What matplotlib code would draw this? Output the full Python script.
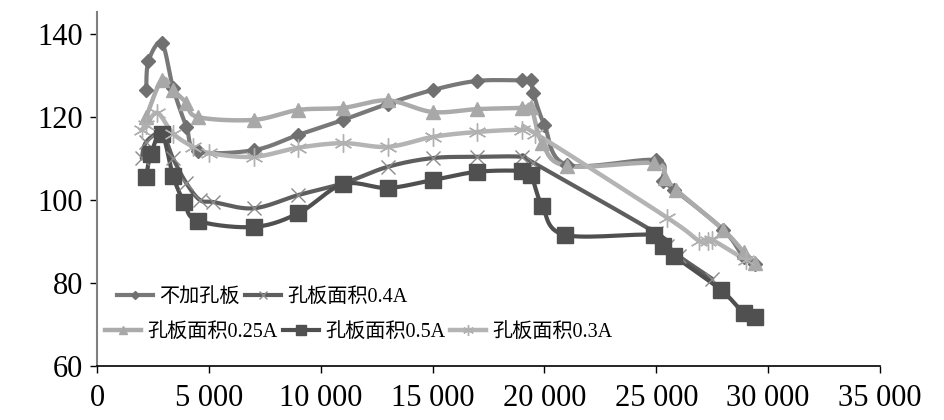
import numpy as np
import matplotlib
matplotlib.use("Agg")
import matplotlib.pyplot as plt
from matplotlib.ticker import FuncFormatter
from matplotlib.lines import Line2D

# ---- data ----
labels = ["不加孔板", "孔板面积0.4A", "孔板面积0.25A", "孔板面积0.5A", "孔板面积0.3A"]

x_none = [2200, 2300, 2900, 3400, 4000, 4500, 7000, 9000, 11000, 13000, 15000, 17000,
          19000, 19400, 19500, 20000, 21000, 25000, 25300, 25800, 28000, 28900, 29400]
y_none = [126.5, 133.5, 137.8, 127.0, 117.6, 111.8, 112.0, 115.7, 119.3, 123.2, 126.5, 128.7,
          128.8, 128.8, 125.8, 118.1, 108.5, 109.6, 104.5, 102.5, 92.8, 86.3, 84.5]

x_04 = [2000, 2200, 2900, 3400, 4000, 4600, 5200, 7000, 9000, 11000, 13000, 15000, 17000,
        19000, 19500, 25000, 25500, 26000, 27500]
y_04 = [110.0, 114.0, 116.0, 110.0, 104.0, 100.0, 99.5, 98.0, 101.2, 104.0, 108.0, 110.1, 110.4,
        110.4, 109.0, 92.0, 89.0, 86.5, 81.0]

x_025 = [2200, 2900, 3400, 4000, 4500, 7000, 9000, 11000, 13000, 15000, 17000, 19000, 19400,
         19900, 21000, 24900, 25400, 25900, 28000, 28900, 29400]
y_025 = [120.0, 129.0, 126.5, 123.4, 120.0, 119.3, 121.7, 122.2, 124.0, 121.2, 121.9, 122.2, 122.4,
         113.7, 108.2, 108.9, 105.3, 102.4, 92.8, 87.5, 84.8]

x_05 = [2200, 2400, 2900, 3400, 3900, 4500, 7000, 9000, 11000, 13000, 15000, 17000, 19000,
        19400, 19900, 20900, 24900, 25300, 25800, 27900, 28900, 29400]
y_05 = [105.5, 111.0, 116.0, 105.8, 99.4, 95.0, 93.5, 96.8, 103.8, 102.9, 104.8, 106.8, 107.0,
        106.0, 98.5, 91.6, 91.6, 89.0, 86.5, 78.3, 72.8, 71.8]

x_03 = [2000, 2200, 2700, 3400, 4300, 5000, 7000, 9000, 11000, 13000, 15000, 17000, 19000,
        19600, 25500, 26900, 27300, 27500, 29000]
y_03 = [116.9, 118.0, 121.0, 116.0, 112.8, 111.3, 110.4, 112.6, 113.7, 112.8, 115.2, 116.4, 116.9,
        116.0, 95.7, 90.2, 90.2, 90.4, 85.5]

x_ticks = [0, 5000, 10000, 15000, 20000, 25000, 30000, 35000]
y_ticks = [60, 80, 100, 120, 140]


def smooth(xs, ys, n=16):
    """Bezier smoothing through the points (like Excel's smoothed line)."""
    p = np.column_stack([xs, ys]).astype(float)
    if len(p) < 3:
        return p[:, 0], p[:, 1]
    ext = np.vstack([p[0], p, p[-1]])
    out = []
    t = np.linspace(0, 1, n, endpoint=False)[:, None]
    for i in range(1, len(ext) - 2):
        p0, p1, p2, p3 = ext[i - 1], ext[i], ext[i + 1], ext[i + 2]
        c1 = p1 + (p2 - p0) / 6.0
        c2 = p2 - (p3 - p1) / 6.0
        seg = ((1 - t) ** 3) * p1 + 3 * ((1 - t) ** 2) * t * c1 + 3 * (1 - t) * t ** 2 * c2 + t ** 3 * p2
        out.append(seg)
    out.append(p[-1][None, :])
    out = np.vstack(out)
    return out[:, 0], out[:, 1]


fig = plt.figure(figsize=(9.44, 4.2), dpi=100)
ax = fig.add_axes([97 / 944, 1 - 366 / 420, (880 - 97) / 944, (366 - 12) / 420])

series = [
    (x_none, y_none, dict(color="#787878", marker="D", ms=7.5, lw=3.0, mfc="#707070", mec="#707070", mew=1)),
    (x_04, y_04, dict(color="#5e5e5e", marker="x", ms=10, lw=3.0, mfc="#8a8a8a", mec="#8a8a8a", mew=1.0)),
    (x_025, y_025, dict(color="#ababab", marker="^", ms=10.5, lw=3.2, mfc="#a8a8a8", mec="#a8a8a8", mew=1)),
    (x_05, y_05, dict(color="#4f4f4f", marker="s", ms=11, lw=3.0, mfc="#505050", mec="#505050", mew=1)),
    (x_03, y_03, dict(color="#b4b4b4", marker=(6, 2, 0), ms=13, lw=3.2, mfc="#b0b0b0", mec="#b0b0b0", mew=1.0)),
]

handles = []
for (xs, ys, st), lab in zip(series, labels):
    sx, sy = smooth(xs, ys)
    ax.plot(sx, sy, color=st["color"], lw=st["lw"], solid_capstyle="round", zorder=2)
    ax.plot(xs, ys, ls="none", marker=st["marker"], ms=st["ms"], mfc=st["mfc"],
            mec=st["mec"], mew=st["mew"], zorder=3)
    handles.append(Line2D([], [], color=st["color"], lw=st["lw"], marker=st["marker"],
                          ms=st["ms"] * 0.6, mfc=st["mfc"], mec=st["mec"], mew=st["mew"]))

ax.set_xlim(0, 35000)
ax.set_ylim(60, 145.3)
ax.set_xticks(x_ticks)
ax.set_yticks(y_ticks)
ax.xaxis.set_major_formatter(FuncFormatter(lambda v, p: f"{int(v):,}".replace(",", " ")))

for s in ["top", "right"]:
    ax.spines[s].set_visible(False)
ax.spines["left"].set_color("#808080")
ax.spines["left"].set_linewidth(1.5)
ax.spines["bottom"].set_color("black")
ax.spines["bottom"].set_linewidth(1.2)
ax.tick_params(axis="both", direction="out", length=5, width=1, colors="black",
               labelsize=22)
ax.tick_params(axis="x", pad=8)
ax.tick_params(axis="y", pad=5)
for lab in ax.get_xticklabels() + ax.get_yticklabels():
    lab.set_family("Liberation Serif")

fam = ["Liberation Serif", "Noto Sans CJK SC"]
leg_kw = dict(frameon=False, prop={"family": fam, "size": 14.5}, handlelength=1.8,
              handletextpad=0.3, columnspacing=0.25, borderaxespad=0, borderpad=0)
leg1 = ax.legend(handles[:2], labels[:2], ncol=2, loc="center left",
                 bbox_to_anchor=(20 / 783, 1 - (297 - 12) / 354), **leg_kw)
ax.add_artist(leg1)
leg2 = ax.legend(handles[2:], labels[2:], ncol=3, loc="center left",
                 bbox_to_anchor=(8 / 783, 1 - (332 - 12) / 354), **leg_kw)

fig.savefig("out.png", dpi=100)
